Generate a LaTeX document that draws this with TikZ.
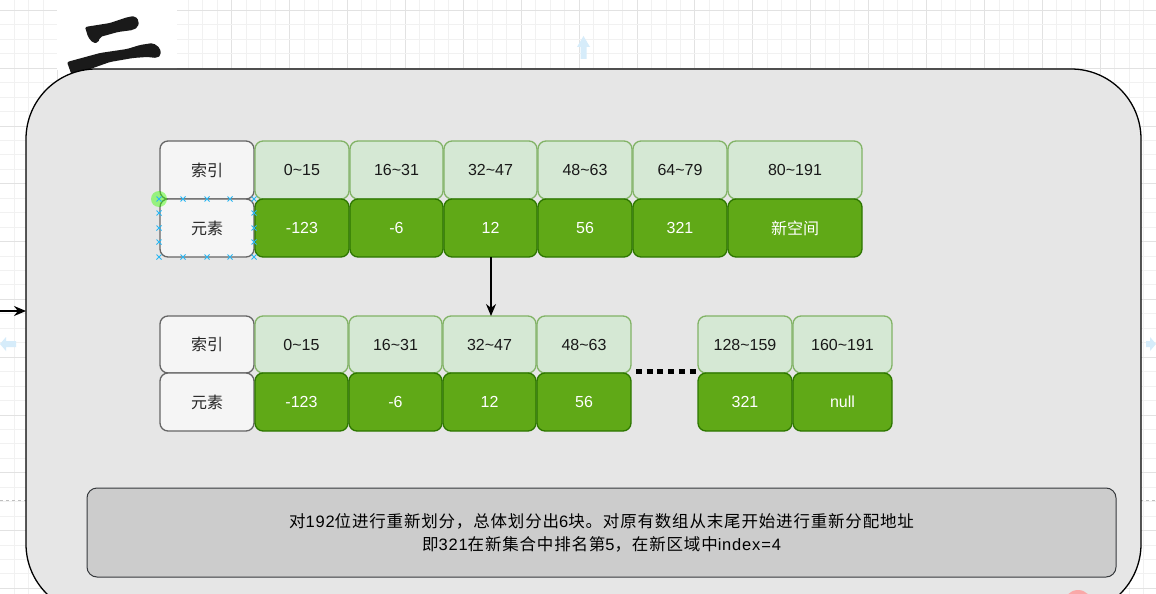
\documentclass[tikz,border=0pt]{standalone}
\usepackage{fontspec}
\setmainfont{Liberation Sans}
\newfontfamily\cjk{Noto Sans CJK SC}
\newfontfamily\cjkw[LetterSpace=5]{Noto Sans CJK SC}
\newfontfamily\latw[LetterSpace=5]{Liberation Sans}
\usetikzlibrary{arrows.meta}
\definecolor{lgfill}{HTML}{D5E8D4}
\definecolor{lgdraw}{HTML}{82B366}
\definecolor{dgfill}{HTML}{60A917}
\definecolor{dgdraw}{HTML}{2D7600}
\definecolor{idxfill}{HTML}{F5F5F5}
\definecolor{idxdraw}{HTML}{666666}
\definecolor{contfill}{HTML}{E6E6E6}
\definecolor{notefill}{HTML}{CCCCCC}
\definecolor{notedraw}{HTML}{36393D}
\definecolor{gridminor}{HTML}{F1F1F1}
\definecolor{gridmajor}{HTML}{E2E2E2}
\definecolor{selblue}{HTML}{29B6F2}
\definecolor{hintblue}{HTML}{D6ECFA}
\definecolor{brush}{HTML}{1A1A1A}
\tikzset{
  cellbase/.style={rounded corners=8pt, inner sep=0pt, outer sep=0pt, line width=1.3pt,
    font=\fontsize{16}{19}\selectfont},
  idxbox/.style={cellbase, draw=idxdraw, fill=idxfill, text=black!85},
  lgbox/.style={cellbase, draw=lgdraw, fill=lgfill, text=black!90},
  dgbox/.style={cellbase, draw=dgdraw, fill=dgfill, text=white},
  selmark/.style={draw=selblue, line width=0.9pt},
  bigarrow/.style={line width=1.3pt, -{Stealth[length=12pt,width=10pt]}},
}
\newcommand\cellbox[7]{\node[#2, minimum width={#5-#3}, minimum height={#6-#4}] (#1) at ({(#3+#5)/2},{(#4+#6)/2}) {#7};}
\begin{document}
\begin{tikzpicture}[x=1pt,y=-1pt]
\useasboundingbox (0,0) rectangle (1156,594);
\clip (0,0) rectangle (1156,594);
\fill[white] (0,0) rectangle (1156,594);
% grid
\foreach \k in {-1,...,80} {
  \pgfmathsetmacro\xx{14.3+14.48*\k}
  \pgfmathtruncatemacro\mm{mod(\k+4,4)}
  \ifnum\mm=3 \draw[gridmajor, line width=0.8pt] (\xx,0) -- (\xx,594);
  \else \draw[gridminor, line width=0.8pt] (\xx,0) -- (\xx,594); \fi
}
\foreach \k in {0,...,41} {
  \pgfmathsetmacro\yy{10.3+14.45*\k}
  \pgfmathtruncatemacro\mm{mod(\k,4)}
  \ifnum\mm=0 \draw[gridmajor, line width=0.8pt] (0,\yy) -- (1156,\yy);
  \else \draw[gridminor, line width=0.8pt] (0,\yy) -- (1156,\yy); \fi
}
\draw[black!25, dashed, line width=0.8pt] (0,500) -- (1156,500);
% white image patch with brush character
\fill[white] (57,0) rectangle (177,70);
\fill[brush, rounded corners=2pt] (85,27) -- (110,23) -- (128,17) -- (135,16) -- (139,21) -- (138,27) -- (133,30)
  -- (118,32) -- (100,37) -- (98,43) -- (93,43) -- (88,37) -- (86,30) -- cycle;
\fill[brush, rounded corners=2pt] (67,62) -- (100,53) -- (127,49) -- (140,45) -- (153,43) -- (160,48) -- (161,55)
  -- (157,58) -- (147,57) -- (133,58) -- (110,62) -- (93,68) -- (72,76) -- cycle;
% faint hint arrows
\fill[hintblue] (583.5,36) -- (590,47) -- (586.5,47) -- (586.5,59) -- (580.5,59) -- (580.5,47) -- (577,47) -- cycle;
\fill[hintblue] (0,344) -- (6,337) -- (6,341) -- (16,341) -- (16,347) -- (6,347) -- (6,351) -- cycle;
\fill[hintblue] (1156,344) -- (1150,337) -- (1150,341) -- (1146,341) -- (1146,347) -- (1150,347) -- (1150,351) -- cycle;
% container
\node[draw=black, line width=1.3pt, fill=contfill, rounded corners=70pt, minimum width=1115pt, minimum height=545pt,
  inner sep=0pt, outer sep=0pt] (cont) at (583.5,341.5) {};
\coordinate (lin) at (0,311);
\draw[bigarrow] (lin) -- (lin -| cont.west);
% top group
\cellbox{i1}{idxbox}{160}{141}{254}{199}{\cjk 索引}
\cellbox{e1}{idxbox}{160}{199}{254}{257}{\cjk 元素}
\cellbox{a1}{lgbox}{255}{141}{349}{199}{0\textasciitilde 15}
\cellbox{a2}{lgbox}{350}{141}{443}{199}{16\textasciitilde 31}
\cellbox{a3}{lgbox}{444}{141}{537}{199}{32\textasciitilde 47}
\cellbox{a4}{lgbox}{538}{141}{632}{199}{48\textasciitilde 63}
\cellbox{a5}{lgbox}{633}{141}{727}{199}{64\textasciitilde 79}
\cellbox{a6}{lgbox}{728}{141}{862}{199}{80\textasciitilde 191}
\cellbox{d1}{dgbox}{255}{199}{349}{257}{-123}
\cellbox{d2}{dgbox}{350}{199}{443}{257}{-6}
\cellbox{d3}{dgbox}{444}{199}{537}{257}{12}
\cellbox{d4}{dgbox}{538}{199}{632}{257}{56}
\cellbox{d5}{dgbox}{633}{199}{727}{257}{321}
\cellbox{d6}{dgbox}{728}{199}{862}{257}{\cjk 新空间}
% bottom group
\cellbox{i2}{idxbox}{160}{316}{254}{373}{\cjk 索引}
\cellbox{e2}{idxbox}{160}{373}{254}{431}{\cjk 元素}
\cellbox{b1}{lgbox}{255}{316}{348}{373}{0\textasciitilde 15}
\cellbox{b2}{lgbox}{349}{316}{442}{373}{16\textasciitilde 31}
\cellbox{b3}{lgbox}{443}{316}{536}{373}{32\textasciitilde 47}
\cellbox{b4}{lgbox}{537}{316}{631}{373}{48\textasciitilde 63}
\cellbox{b5}{lgbox}{698}{316}{792}{373}{128\textasciitilde 159}
\cellbox{b6}{lgbox}{793}{316}{892}{373}{160\textasciitilde 191}
\cellbox{c1}{dgbox}{255}{373}{348}{431}{-123}
\cellbox{c2}{dgbox}{349}{373}{442}{431}{-6}
\cellbox{c3}{dgbox}{443}{373}{536}{431}{12}
\cellbox{c4}{dgbox}{537}{373}{631}{431}{56}
\cellbox{c5}{dgbox}{698}{373}{792}{431}{321}
\cellbox{c6}{dgbox}{793}{373}{892}{431}{null}
% connectors
\draw[bigarrow] (d3.south -| 491,0) -- (b3.north -| 491,0);
\coordinate (dotA) at (636,371);
\draw[line width=5pt, dash pattern=on 6pt off 4.7pt] (dotA) -- (dotA -| b5.west);
% note
\node[draw=notedraw, line width=1pt, fill=notefill, rounded corners=10pt, minimum width=1029pt, minimum height=89pt,
  inner sep=0pt, outer sep=0pt, align=center, font=\fontsize{16.5}{23}\selectfont, text=black] (note) at (601.5,532.5)
  {{\cjkw 对}{\latw 192}{\cjkw 位进行重新划分，总体划分出}{\latw 6}{\cjkw 块。对原有数组从末尾开始进行重新分配地址}\\
   {\cjkw 即}{\latw 321}{\cjkw 在新集合中排名第}{\latw 5}{\cjkw ，在新区域中}{\latw index=4}};
% selection handles
\fill[green!70!lime, opacity=0.45] (159,199) circle (8pt);
\foreach \x/\y in {159/199,183/199,207/199,230/199,254/199,159/257,183/257,207/257,230/257,254/257,
  159/213,159/228,159/242,254/213,254/228,254/242} {
  \draw[selmark] (\x-2.5,\y-2.5) -- (\x+2.5,\y+2.5) (\x-2.5,\y+2.5) -- (\x+2.5,\y-2.5);
}
% pink marker
\fill[red!40, opacity=0.8] (1078,604) circle (14pt);
\end{tikzpicture}
\end{document}
